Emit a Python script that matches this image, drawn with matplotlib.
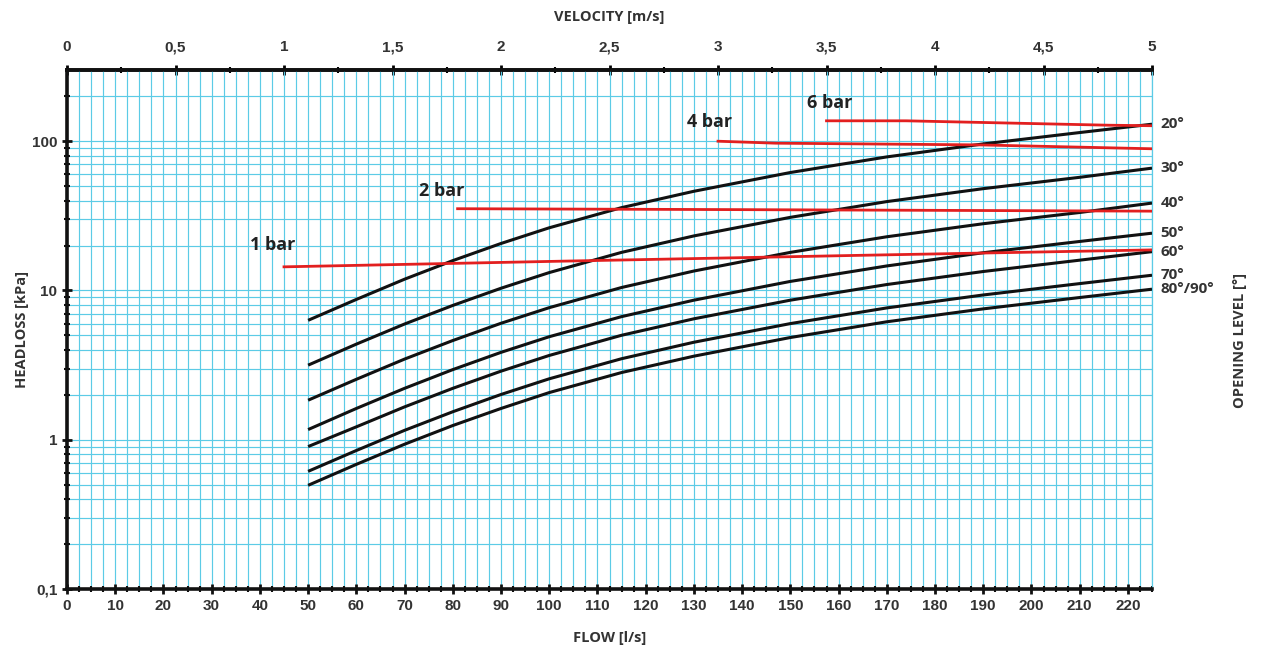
import matplotlib
matplotlib.use("Agg")
import matplotlib.pyplot as plt
from matplotlib.ticker import FixedLocator, MultipleLocator, FuncFormatter, NullFormatter

# ---- data ----
flow = [50, 60, 70, 80, 90, 100, 115, 130, 150, 170, 190, 210, 225]
curve_labels = ["20°", "30°", "40°", "50°", "60°", "70°", "80°/90°"]
hl_20 = [6.31, 8.71, 11.9, 15.85, 20.65, 26.3, 35.9, 46.2, 61.7, 78.5, 95.9, 114.3, 130.0]
hl_30 = [3.16, 4.37, 5.96, 7.94, 10.35, 13.18, 18.0, 23.2, 30.9, 39.4, 48.1, 57.3, 66.0]
hl_40 = [1.84, 2.54, 3.47, 4.62, 6.03, 7.67, 10.47, 13.5, 18.0, 22.9, 28.0, 33.3, 38.5]
hl_50 = [1.17, 1.62, 2.21, 2.95, 3.85, 4.90, 6.68, 8.61, 11.5, 14.6, 17.9, 21.3, 24.2]
hl_60 = [0.90, 1.22, 1.66, 2.21, 2.88, 3.67, 5.01, 6.46, 8.61, 10.96, 13.4, 15.96, 18.2]
hl_70 = [0.614, 0.847, 1.156, 1.54, 2.01, 2.56, 3.49, 4.50, 6.00, 7.64, 9.33, 11.12, 12.65]
hl_80 = [0.495, 0.684, 0.933, 1.245, 1.62, 2.07, 2.82, 3.63, 4.84, 6.17, 7.53, 8.97, 10.2]
curves = [hl_20, hl_30, hl_40, hl_50, hl_60, hl_70, hl_80]

bar_labels = ["1 bar", "2 bar", "4 bar", "6 bar"]
bar1_x = [45, 102, 164.5, 225]
bar1_y = [14.4, 15.7, 17.2, 18.7]
bar2_x = [81, 140, 225]
bar2_y = [35.3, 34.8, 34.0]
bar4_x = [135, 147, 189, 225]
bar4_y = [100, 97, 94.5, 89]
bar6_x = [157.5, 174, 216, 225]
bar6_y = [137, 137, 128, 127]
bar_lines = [(bar1_x, bar1_y), (bar2_x, bar2_y), (bar4_x, bar4_y), (bar6_x, bar6_y)]
bar_label_offsets = [(-8, 16), (-11.5, 13), (-6, 14), (2, 13)]  # points (style)

flow_ticks = list(range(0, 230, 10))
vel_ticks = [0, 0.5, 1, 1.5, 2, 2.5, 3, 3.5, 4, 4.5, 5]
y_ticks = [0.1, 1, 10, 100]
V_PER_FLOW = 5 / 225.0

TICKFONT = "Liberation Sans"
TXT = "#333333"

# ---- figure ----
fig = plt.figure(figsize=(12.61, 6.53), dpi=100)
ax = fig.add_axes([67/1261, 1-589/653, (1152-67)/1261, (589-70)/653])

ax.set_yscale("log")
ax.set_xlim(0, 225)
ax.set_ylim(0.1, 300)

grid_c = "#5ccbe6"
ax.xaxis.set_major_locator(FixedLocator(flow_ticks))
ax.xaxis.set_minor_locator(MultipleLocator(2.5))
ax.yaxis.set_major_locator(FixedLocator(y_ticks))
minor_y = [m * d for d in [0.1, 1, 10] for m in range(2, 10)] + [200]
ax.yaxis.set_minor_locator(FixedLocator(minor_y))
ax.yaxis.set_minor_formatter(NullFormatter())
fmt = FuncFormatter(lambda v, p: ("%g" % v).replace(".", ","))
ax.yaxis.set_major_formatter(fmt)

ax.grid(True, which="both", axis="both", color=grid_c, lw=0.85)
ax.set_axisbelow(True)

for s in ["left", "bottom", "top"]:
    ax.spines[s].set_linewidth(2.6)
    ax.spines[s].set_color("#111111")
ax.spines["right"].set_color(grid_c)
ax.spines["right"].set_linewidth(0.9)

ax.tick_params(axis="both", which="major", direction="inout", length=7, width=2,
               labelsize=11, colors="#111111", labelcolor=TXT)
ax.tick_params(axis="both", which="minor", direction="inout", length=5, width=1.5,
               colors="#111111")
ax.tick_params(axis="y", which="both", right=False)
ax.tick_params(axis="x", which="major", pad=4)
for lab in ax.get_xticklabels() + ax.get_yticklabels():
    lab.set_fontweight("bold")
    lab.set_family(TICKFONT)

# top velocity axis
sec = ax.secondary_xaxis("top", functions=(lambda q: q * V_PER_FLOW, lambda v: v / V_PER_FLOW))
sec.set_xticks(vel_ticks)
sec.xaxis.set_minor_locator(MultipleLocator(0.25))
sec.xaxis.set_major_formatter(fmt)
sec.tick_params(axis="x", which="major", direction="inout", length=7, width=2,
                labelsize=11, labelcolor=TXT, pad=8)
sec.tick_params(axis="x", which="minor", direction="inout", length=5, width=1.5)
sec.spines["top"].set_linewidth(2.6)
for lab in sec.get_xticklabels():
    lab.set_fontweight("bold")
    lab.set_family(TICKFONT)
sec.set_xlabel("VELOCITY [m/s]", fontsize=10.5, fontweight="bold", color=TXT,
               labelpad=14, family="Open Sans")

# curves
for ys, lab in zip(curves, curve_labels):
    ax.plot(flow, ys, color="#111111", lw=2.2, solid_capstyle="butt", zorder=3)
    ax.annotate(lab, xy=(flow[-1], ys[-1]), xytext=(6, 0), textcoords="offset points",
                va="center", ha="left", fontsize=11, fontweight="bold",
                color=TXT, annotation_clip=False, family="Open Sans")

# pressure lines
for (bx, by), lab, off in zip(bar_lines, bar_labels, bar_label_offsets):
    ax.plot(bx, by, color="#e21f1f", lw=2.0, zorder=4)
    ax.annotate(lab, xy=(bx[0], by[0]), xytext=off, textcoords="offset points",
                ha="center", va="center", fontsize=13, fontweight="bold",
                color="#222222", family="Open Sans")

ax.set_xlabel("FLOW [l/s]", fontsize=10.5, fontweight="bold", color=TXT, labelpad=13,
              family="Open Sans")
ax.set_ylabel("HEADLOSS [kPa]", fontsize=10.5, fontweight="bold", color=TXT, labelpad=2,
              family="Open Sans")
fig.text(1240/1261, 1-340/653, "OPENING LEVEL [°]", rotation=90, ha="center", va="center",
         fontsize=10.5, fontweight="bold", color=TXT, family="Open Sans")

fig.savefig("out.png", dpi=100)
